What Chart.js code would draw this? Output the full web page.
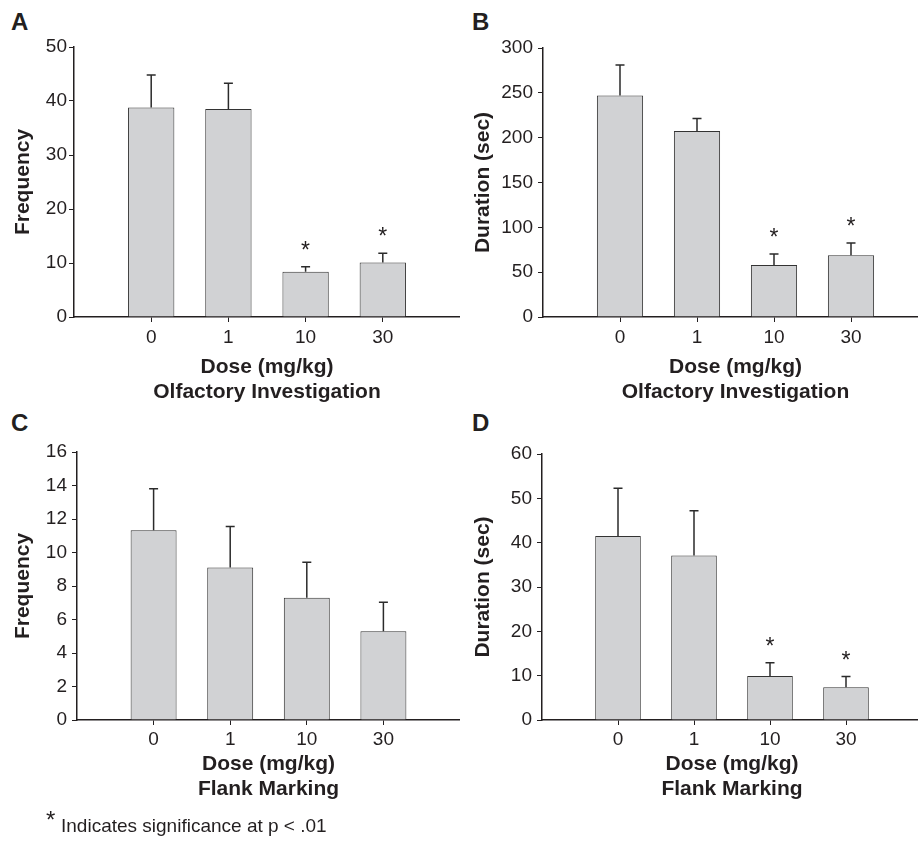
<!DOCTYPE html>
<html>
<head>
<meta charset="utf-8">
<script src="https://cdn.jsdelivr.net/npm/chart.js@4.4.1/dist/chart.umd.min.js"></script>
<style>
  html, body { margin: 0; padding: 0; background: #fff; overflow: hidden; }
  body { width: 918px; height: 842px; position: relative; font-family: "Liberation Sans", Arial, sans-serif; color: #231f20; }
  canvas { position: absolute; }
  .tag { position: absolute; font-weight: bold; font-size: 24px; line-height: 1; }
  .note { position: absolute; white-space: nowrap; line-height: 1; }
</style>
</head>
<body>
<div class="tag" style="left:11px; top:10px;">A</div>
<div class="tag" style="left:472px; top:10px;">B</div>
<div class="tag" style="left:11px; top:411px;">C</div>
<div class="tag" style="left:472px; top:411px;">D</div>

<canvas id="chartA" width="460" height="420" style="left:0; top:0;"></canvas>
<canvas id="chartB" width="468" height="420" style="left:460px; top:0;"></canvas>
<canvas id="chartC" width="460" height="442" style="left:0; top:400px;"></canvas>
<canvas id="chartD" width="462" height="442" style="left:460px; top:400px;"></canvas>

<div class="note" style="left:46px; top:808px; font-size:24px;">*</div>
<div class="note" style="left:61px; top:816px; font-size:19px;">Indicates significance at p &lt; .01</div>

<script>
// dose groups (x axis)
const doses = ['0', '1', '10', '30'];

// A: olfactory investigation, frequency
const olfFreq = [38.8, 38.5, 8.4, 10.1];
const olfFreqErr = [6.0, 4.8, 0.9, 1.7];
// B: olfactory investigation, duration (sec)
const olfDur = [247, 207.5, 58, 69];
const olfDurErr = [34, 14, 12.3, 13.4];
// C: flank marking, frequency
const flankFreq = [11.33, 9.1, 7.3, 5.3];
const flankFreqErr = [2.47, 2.45, 2.12, 1.73];
// D: flank marking, duration (sec)
const flankDur = [41.5, 37.1, 9.9, 7.4];
const flankDurErr = [10.8, 10.1, 3.0, 2.4];

// * p < .01
const sigA = [false, false, true, true];
const sigB = [false, false, true, true];
const sigC = [false, false, false, false];
const sigD = [false, false, true, true];

const ink = '#231f20';
const font = '"Liberation Sans", Arial, sans-serif';

// error bar (upper only) + asterisk
const errPlugin = {
  id: 'errBars',
  afterDatasetsDraw(chart) {
    const o = chart.options.plugins.errBars;
    const yScale = chart.scales.y;
    const meta = chart.getDatasetMeta(0);
    const ctx = chart.ctx;
    ctx.save();
    meta.data.forEach((bar, i) => {
      const top = yScale.getPixelForValue(o.values[i] + o.errors[i]);
      ctx.strokeStyle = '#2b2b2b';
      ctx.lineWidth = 1.5;
      ctx.beginPath();
      ctx.moveTo(bar.x, bar.y);
      ctx.lineTo(bar.x, top);
      ctx.moveTo(bar.x - 4.5, top);
      ctx.lineTo(bar.x + 4.5, top);
      ctx.stroke();
      if (o.sig[i]) {
        ctx.fillStyle = ink;
        ctx.font = '23px ' + font;
        ctx.textAlign = 'center';
        ctx.textBaseline = 'alphabetic';
        ctx.fillText('*', bar.x, top - 22 + 13);
      }
    });
    ctx.restore();
  }
};

function makePanel(id, values, errors, sig, yTitle, subTitle, ymax, ystep, geo) {
  const ctx = document.getElementById(id).getContext('2d');
  return new Chart(ctx, {
    type: 'bar',
    data: {
      datasets: [{
        data: values.map((v, i) => ({ x: i + 1, y: v })),
        backgroundColor: '#d1d2d4',
        borderColor: '#333333',
        borderWidth: 1,
        barPercentage: 0.6,
        categoryPercentage: 1
      }]
    },
    plugins: [errPlugin],
    options: {
      responsive: false,
      animation: false,
      layout: { padding: { top: geo.top, right: 0, bottom: 0, left: 0 } },
      plugins: {
        legend: { display: false },
        tooltip: { enabled: false },
        errBars: { values: values, errors: errors, sig: sig }
      },
      scales: {
        x: {
          type: 'linear',
          offset: false,
          min: 0,
          max: 5,
          afterBuildTicks: s => { s.ticks = s.ticks.filter(t => t.value >= 1 && t.value <= 4); },
          afterFit: s => { s.height = geo.h - geo.bottom; },
          ticks: {
            stepSize: 1,
            color: ink,
            font: { family: font, size: 19 },
            padding: geo.xPad,
            callback: v => doses[v - 1]
          },
          grid: { offset: false, drawOnChartArea: false, tickLength: 5, color: ink, lineWidth: 1 },
          border: { color: ink, width: 1.5 },
          title: {
            display: true,
            text: ['Dose (mg/kg)', subTitle],
            color: ink,
            font: { family: font, size: 21, weight: 'bold', lineHeight: 25 / 21 },
            padding: { top: 0, bottom: geo.titleBottom }
          }
        },
        y: {
          min: 0,
          max: ymax,
          afterFit: s => { s.width = geo.left; },
          ticks: {
            stepSize: ystep,
            color: ink,
            font: { family: font, size: 19 },
            padding: geo.yPad
          },
          grid: { drawOnChartArea: false, tickLength: 5, color: ink, lineWidth: 1 },
          border: { color: ink, width: 1.5 },
          title: {
            display: true,
            text: yTitle,
            color: ink,
            font: { family: font, size: 21, weight: 'bold' },
            padding: { top: 10.4, bottom: 0 }
          }
        }
      }
    }
  });
}

makePanel('chartA', olfFreq, olfFreqErr, sigA, 'Frequency', 'Olfactory Investigation', 50, 10,
  { left: 74, top: 47, bottom: 317, h: 420, titleBottom: 15.5, xPad: 4, yPad: 2 });
makePanel('chartB', olfDur, olfDurErr, sigB, 'Duration (sec)', 'Olfactory Investigation', 300, 50,
  { left: 83, top: 48, bottom: 317, h: 420, titleBottom: 15.5, xPad: 4, yPad: 5 });
makePanel('chartC', flankFreq, flankFreqErr, sigC, 'Frequency', 'Flank Marking', 16, 2,
  { left: 77, top: 52, bottom: 320, h: 442, titleBottom: 40.5, xPad: 3, yPad: 5 });
makePanel('chartD', flankDur, flankDurErr, sigD, 'Duration (sec)', 'Flank Marking', 60, 10,
  { left: 82, top: 54, bottom: 320, h: 442, titleBottom: 40.5, xPad: 3, yPad: 5 });
</script>
</body>
</html>
